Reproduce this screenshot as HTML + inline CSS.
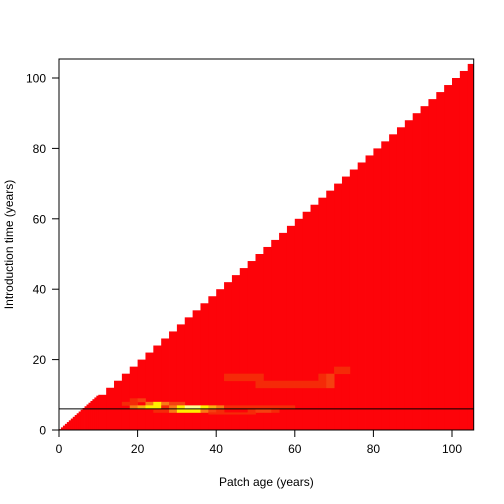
<!DOCTYPE html>
<html><head><meta charset="utf-8"><style>body{margin:0;background:#fff}svg{display:block}</style></head>
<body>
<svg id="c" width="504" height="504" xmlns="http://www.w3.org/2000/svg" font-family="Liberation Sans, sans-serif"></svg>
<script>
const xTicks=[0,20,40,60,80,100];
const yTicks=[0,20,40,60,80,100];
const xLabel="Patch age (years)";
const yLabel="Introduction time (years)";
const fineBinStarts=[0,0.5,1,1.5,2,2.5,3,3.5,4,4.5,5,5.5,6,6.5,7,7.5,8,8.5,9,9.5];
const coarseBinStarts=[10,12,14,16,18,20,22,24,26,28,30,32,34,36,38,40,42,44,46,48,50,52,54,56,58,60,62,64,66,68,70,72,74,76,78,80,82,84,86,88,90,92,94,96,98,100,102,104];
// hot cells: [ageStart, ageEnd, introStart, introEnd, level]
const hotCells=[
[18,20,8,9,1],[20,22,8,9,2],
[16,18,7,8,1],[18,20,7,8,1],[22,24,7,8,3],[24,26,7,8,5],[26,28,7,8,3],[28,32,7,8,2],
[18,20,6,7,3],[20,22,6,7,4],[22,26,6,7,5],[26,28,6,7,1],[28,30,6,7,3],[30,32,6,7,5],[32,36,6,7,6],[36,38,6,7,5],[38,40,6,7,4],[40,42,6,7,3],[42,60,6,7,1],
[24,28,5,6,1],[28,30,5,6,3],[30,36,5,6,5],[36,38,5,6,3],[38,40,5,6,2],[40,42,5,6,1],[48,50,5,6,1],[50,54,5,6,2],[54,56,5,6,1],
[38,50,4.5,5,1],
[42,52,14,16,1],[66,68,14,16,1],[68,70,14,16,2],
[50,66,12,14,1],[66,68,12,14,1],[68,70,12,14,2],
[70,74,16,18,1]
];
const hLineValue=6;
const levelColors=["#fd0309","#f52a08","#f54010","#f87a14","#fbb010","#fef000","#ffff90"];

const L=59,R=473.7,T=59,B=430;
const xs=v=>59+v*3.93;
const ys=v=>430-v*3.52;
const svg=document.getElementById('c');
const NS="http://www.w3.org/2000/svg";
function mk(t,a){const e=document.createElementNS(NS,t);for(const k in a)e.setAttribute(k,a[k]);svg.appendChild(e);return e;}
const clip=mk('clipPath',{id:'pc'});
const cr=document.createElementNS(NS,'rect');cr.setAttribute('x',L);cr.setAttribute('y',T);cr.setAttribute('width',R-L);cr.setAttribute('height',B-T);clip.appendChild(cr);
const g=mk('g',{'clip-path':'url(#pc)'});
function rect(x0,x1,y0,y1,col){const e=document.createElementNS(NS,'rect');
e.setAttribute('x',xs(x0));e.setAttribute('width',xs(x1)-xs(x0)+0.4);
e.setAttribute('y',ys(y1));e.setAttribute('height',Math.max(0,ys(y0)-ys(y1)+0.4));
e.setAttribute('fill',col);g.appendChild(e);return e;}
fineBinStarts.forEach(a=>{const e=rect(a,a+0.5,0,a+0.25,levelColors[0]);

});
coarseBinStarts.forEach(a=>{const e=rect(a,a+2,0,a,levelColors[0]);

});
hotCells.forEach(c=>{const e=rect(c[0],c[1],c[2],c[3],levelColors[c[4]]);

});
const hl=mk('line',{x1:L,x2:R,y1:ys(hLineValue),y2:ys(hLineValue),stroke:'#000','stroke-width':1});


const fr=mk('rect',{x:L,y:T,width:R-L,height:B-T,fill:'none',stroke:'#000','stroke-width':1});


xTicks.forEach(v=>{mk('line',{x1:xs(v),x2:xs(v),y1:B,y2:B+7,stroke:'#000'});
const t=mk('text',{x:xs(v),y:B+23,'text-anchor':'middle','font-size':12});t.textContent=v;

});
yTicks.forEach(v=>{mk('line',{x1:L,x2:L-7,y1:ys(v),y2:ys(v),stroke:'#000'});
const t=mk('text',{x:L-13,y:ys(v)+4.5,'text-anchor':'end','font-size':12});t.textContent=v;

});
const xt=mk('text',{x:(L+R)/2,y:486,'text-anchor':'middle','font-size':12});xt.textContent=xLabel;


const yt=mk('text',{x:13,y:(T+B)/2,'text-anchor':'middle','font-size':12,transform:`rotate(-90 13 ${(T+B)/2})`,dy:'0'});yt.textContent=yLabel;


</script>
</body></html>
